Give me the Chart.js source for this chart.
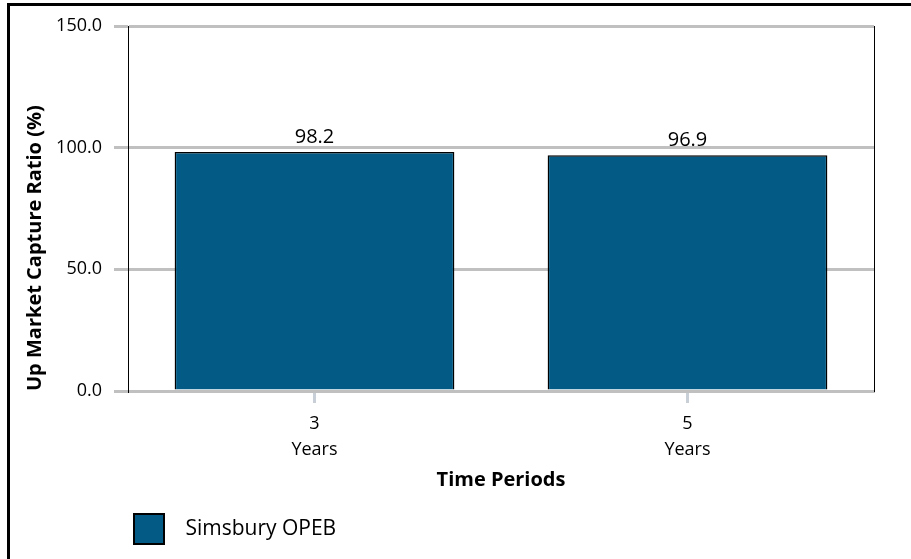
<!DOCTYPE html>
<html>
<head>
<meta charset="utf-8">
<script src="https://cdn.jsdelivr.net/npm/chart.js@4.4.1/dist/chart.umd.min.js"></script>
<style>
    body { margin: 0; background: #fff; }
    #wrap { position: relative; width: 911px; height: 559px; }
    #frame {
        position: absolute; left: 7px; top: 3px; right: 0; bottom: 0;
        border-top: 3px solid #000; border-left: 3px solid #000;
        pointer-events: none;
    }
</style>
</head>
<body>
<div id="wrap">
    <canvas id="chart" width="911" height="559"></canvas>
    <div id="frame"></div>
</div>
<script>
// Данные графика
const periods = [['3', 'Years'], ['5', 'Years']];
const seriesName = 'Simsbury OPEB';
const upCapture = [98.2, 96.9];
const yTicks = [0, 50, 100, 150];

const FONT = "'Open Sans', 'Noto Sans', sans-serif";

// Подписи значений над столбцами
const valueLabels = {
    id: 'valueLabels',
    afterDatasetsDraw(chart) {
        const ctx = chart.ctx;
        ctx.save();
        ctx.font = `20px ${FONT}`;
        ctx.fillStyle = '#000';
        ctx.textAlign = 'center';
        ctx.textBaseline = 'alphabetic';
        chart.getDatasetMeta(0).data.forEach((bar, i) => {
            ctx.fillText(upCapture[i].toFixed(1), bar.x, bar.y - 9);
        });
        ctx.restore();
    }
};

const ctx = document.getElementById('chart').getContext('2d');
new Chart(ctx, {
    type: 'bar',
    data: {
        labels: periods,
        datasets: [{
            label: seriesName,
            data: upCapture,
            backgroundColor: '#035a84',
            borderColor: '#000',
            borderWidth: 1.5,
            categoryPercentage: 0.75,
            barPercentage: 1.0
        }]
    },
    options: {
        responsive: false,
        animation: false,
        layout: { padding: { top: 26, right: 37, bottom: 5, left: 0 } },
        plugins: {
            tooltip: { enabled: false },
            legend: {
                position: 'bottom',
                align: 'start',
                fullSize: false,
                labels: {
                    boxWidth: 30,
                    boxHeight: 30,
                    padding: 6,
                    color: '#000',
                    font: { family: FONT, size: 21 },
                    generateLabels: chart => chart.data.datasets.map((ds, i) => ({
                        text: '  ' + ds.label,
                        fillStyle: ds.backgroundColor,
                        strokeStyle: '#000',
                        lineWidth: 2,
                        datasetIndex: i
                    }))
                }
            }
        },
        scales: {
            x: {
                offset: true,
                afterFit: scale => { scale.height = 117; },
                grid: {
                    offset: false,
                    drawOnChartArea: false,
                    drawTicks: true,
                    tickLength: 12,
                    tickWidth: 3,
                    tickColor: '#c9cfd6'
                },
                border: { display: true, color: '#c0c0c0', width: 3 },
                ticks: {
                    color: '#000',
                    padding: 8,
                    font: { family: FONT, size: 18, lineHeight: 1.444 }
                },
                title: {
                    display: true,
                    text: 'Time Periods',
                    color: '#000',
                    padding: { top: 4, bottom: 16 },
                    font: { family: FONT, size: 20, weight: 'bold' }
                }
            },
            y: {
                min: 0,
                max: 150,
                afterBuildTicks: scale => { scale.ticks = yTicks.map(v => ({ value: v })); },
                afterFit: scale => { scale.width = 128; },
                grid: {
                    color: '#c0c0c0',
                    lineWidth: 3,
                    tickLength: 14,
                    drawTicks: true
                },
                border: { display: true, color: '#000', width: 1 },
                ticks: {
                    color: '#000',
                    padding: 12,
                    font: { family: FONT, size: 18 },
                    callback: v => Number(v).toFixed(1)
                },
                title: {
                    display: true,
                    align: 'start',
                    text: 'Up Market Capture Ratio (%)',
                    color: '#000',
                    padding: { top: 23, bottom: 0 },
                    font: { family: FONT, size: 20, weight: 'bold' }
                }
            },
            y2: {
                position: 'right',
                min: 0,
                max: 150,
                afterFit: scale => { scale.width = 0; },
                grid: { drawOnChartArea: false, drawTicks: false },
                border: { display: true, color: '#000', width: 1 },
                ticks: { display: false }
            }
        }
    },
    plugins: [valueLabels]
});
</script>
</body>
</html>
